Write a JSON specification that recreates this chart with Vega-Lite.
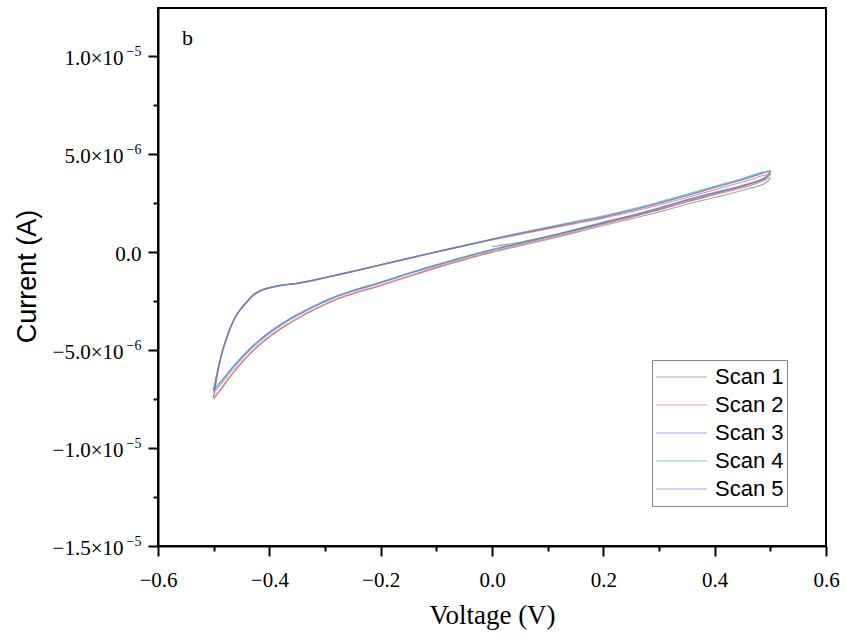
{
  "$schema": "https://vega.github.io/schema/vega-lite/v6.json",
  "width": 668,
  "height": 538,
  "autosize": {"type": "none"},
  "padding": {"left": 158, "top": 8, "right": 20, "bottom": 92},
  "background": "#ffffff",
  "config": {
    "view": {"stroke": "#000000", "strokeWidth": 2},
    "axis": {"domainColor": "#000000", "domainWidth": 2, "tickColor": "#000000", "tickWidth": 2, "labelColor": "#000000", "titleColor": "#000000", "titleFontWeight": "normal", "grid": false, "labelFlush": false, "labelOverlap": false, "labelBound": false}
  },
  "resolve": {"axis": {"y": "independent"}},
  "layer": [
    {
      "data": {"values": [
        {"s":"Scan 1","i":0,"v":0,"c":0.27e-6},{"s":"Scan 1","i":1,"v":0.05,"c":0.5e-6},{"s":"Scan 1","i":2,"v":0.1,"c":0.8e-6},{"s":"Scan 1","i":3,"v":0.15,"c":1.12e-6},{"s":"Scan 1","i":4,"v":0.2,"c":1.46e-6},{"s":"Scan 1","i":5,"v":0.25,"c":1.8e-6},{"s":"Scan 1","i":6,"v":0.3,"c":2.17e-6},{"s":"Scan 1","i":7,"v":0.35,"c":2.56e-6},{"s":"Scan 1","i":8,"v":0.4,"c":2.96e-6},{"s":"Scan 1","i":9,"v":0.45,"c":3.35e-6},{"s":"Scan 1","i":10,"v":0.5,"c":3.76e-6},
        {"s":"Scan 1","i":11,"v":0.49,"c":3.5e-6},{"s":"Scan 1","i":12,"v":0.45,"c":3.14e-6},{"s":"Scan 1","i":13,"v":0.4,"c":2.78e-6},{"s":"Scan 1","i":14,"v":0.35,"c":2.44e-6},{"s":"Scan 1","i":15,"v":0.3,"c":2.04e-6},{"s":"Scan 1","i":16,"v":0.25,"c":1.69e-6},{"s":"Scan 1","i":17,"v":0.2,"c":1.35e-6},{"s":"Scan 1","i":18,"v":0.15,"c":0.99e-6},{"s":"Scan 1","i":19,"v":0.1,"c":0.64e-6},{"s":"Scan 1","i":20,"v":0.05,"c":0.31e-6},{"s":"Scan 1","i":21,"v":0,"c":-0.02e-6},{"s":"Scan 1","i":22,"v":-0.05,"c":-0.4e-6},{"s":"Scan 1","i":23,"v":-0.1,"c":-0.81e-6},{"s":"Scan 1","i":24,"v":-0.15,"c":-1.26e-6},{"s":"Scan 1","i":25,"v":-0.2,"c":-1.72e-6},{"s":"Scan 1","i":26,"v":-0.25,"c":-2.14e-6},{"s":"Scan 1","i":27,"v":-0.28,"c":-2.44e-6},{"s":"Scan 1","i":28,"v":-0.3,"c":-2.69e-6},{"s":"Scan 1","i":29,"v":-0.32,"c":-2.97e-6},{"s":"Scan 1","i":30,"v":-0.34,"c":-3.26e-6},{"s":"Scan 1","i":31,"v":-0.36,"c":-3.58e-6},{"s":"Scan 1","i":32,"v":-0.38,"c":-3.94e-6},{"s":"Scan 1","i":33,"v":-0.4,"c":-4.34e-6},{"s":"Scan 1","i":34,"v":-0.42,"c":-4.81e-6},{"s":"Scan 1","i":35,"v":-0.44,"c":-5.36e-6},{"s":"Scan 1","i":36,"v":-0.46,"c":-6.0e-6},{"s":"Scan 1","i":37,"v":-0.47,"c":-6.36e-6},{"s":"Scan 1","i":38,"v":-0.48,"c":-6.75e-6},{"s":"Scan 1","i":39,"v":-0.49,"c":-7.12e-6},{"s":"Scan 1","i":40,"v":-0.5,"c":-7.47e-6},
        {"s":"Scan 1","i":41,"v":-0.498,"c":-7.1e-6},{"s":"Scan 1","i":42,"v":-0.496,"c":-6.72e-6},{"s":"Scan 1","i":43,"v":-0.493,"c":-6.23e-6},{"s":"Scan 1","i":44,"v":-0.489,"c":-5.67e-6},{"s":"Scan 1","i":45,"v":-0.485,"c":-5.19e-6},{"s":"Scan 1","i":46,"v":-0.48,"c":-4.72e-6},{"s":"Scan 1","i":47,"v":-0.47,"c":-3.9e-6},{"s":"Scan 1","i":48,"v":-0.46,"c":-3.29e-6},{"s":"Scan 1","i":49,"v":-0.45,"c":-2.89e-6},{"s":"Scan 1","i":50,"v":-0.44,"c":-2.56e-6},{"s":"Scan 1","i":51,"v":-0.43,"c":-2.26e-6},{"s":"Scan 1","i":52,"v":-0.42,"c":-2.06e-6},{"s":"Scan 1","i":53,"v":-0.41,"c":-1.93e-6},{"s":"Scan 1","i":54,"v":-0.4,"c":-1.85e-6},{"s":"Scan 1","i":55,"v":-0.38,"c":-1.73e-6},{"s":"Scan 1","i":56,"v":-0.35,"c":-1.62e-6},{"s":"Scan 1","i":57,"v":-0.32,"c":-1.46e-6},{"s":"Scan 1","i":58,"v":-0.3,"c":-1.33e-6},{"s":"Scan 1","i":59,"v":-0.25,"c":-1.0e-6},{"s":"Scan 1","i":60,"v":-0.2,"c":-0.67e-6},{"s":"Scan 1","i":61,"v":-0.15,"c":-0.34e-6},{"s":"Scan 1","i":62,"v":-0.1,"c":-0.01e-6},{"s":"Scan 1","i":63,"v":-0.05,"c":0.31e-6},{"s":"Scan 1","i":64,"v":0,"c":0.62e-6},

        {"s":"Scan 2","i":0,"v":0,"c":0.62e-6},{"s":"Scan 2","i":1,"v":0.05,"c":0.9e-6},{"s":"Scan 2","i":2,"v":0.1,"c":1.18e-6},{"s":"Scan 2","i":3,"v":0.15,"c":1.45e-6},{"s":"Scan 2","i":4,"v":0.2,"c":1.73e-6},{"s":"Scan 2","i":5,"v":0.25,"c":2.04e-6},{"s":"Scan 2","i":6,"v":0.3,"c":2.4e-6},{"s":"Scan 2","i":7,"v":0.35,"c":2.78e-6},{"s":"Scan 2","i":8,"v":0.4,"c":3.18e-6},{"s":"Scan 2","i":9,"v":0.45,"c":3.57e-6},{"s":"Scan 2","i":10,"v":0.5,"c":3.97e-6},
        {"s":"Scan 2","i":11,"v":0.49,"c":3.68e-6},{"s":"Scan 2","i":12,"v":0.45,"c":3.28e-6},{"s":"Scan 2","i":13,"v":0.4,"c":2.92e-6},{"s":"Scan 2","i":14,"v":0.35,"c":2.56e-6},{"s":"Scan 2","i":15,"v":0.3,"c":2.14e-6},{"s":"Scan 2","i":16,"v":0.25,"c":1.77e-6},{"s":"Scan 2","i":17,"v":0.2,"c":1.42e-6},{"s":"Scan 2","i":18,"v":0.15,"c":1.05e-6},{"s":"Scan 2","i":19,"v":0.1,"c":0.69e-6},{"s":"Scan 2","i":20,"v":0.05,"c":0.36e-6},{"s":"Scan 2","i":21,"v":0,"c":0.03e-6},{"s":"Scan 2","i":22,"v":-0.05,"c":-0.36e-6},{"s":"Scan 2","i":23,"v":-0.1,"c":-0.77e-6},{"s":"Scan 2","i":24,"v":-0.15,"c":-1.22e-6},{"s":"Scan 2","i":25,"v":-0.2,"c":-1.68e-6},{"s":"Scan 2","i":26,"v":-0.25,"c":-2.1e-6},{"s":"Scan 2","i":27,"v":-0.28,"c":-2.4e-6},{"s":"Scan 2","i":28,"v":-0.3,"c":-2.65e-6},{"s":"Scan 2","i":29,"v":-0.32,"c":-2.93e-6},{"s":"Scan 2","i":30,"v":-0.34,"c":-3.22e-6},{"s":"Scan 2","i":31,"v":-0.36,"c":-3.54e-6},{"s":"Scan 2","i":32,"v":-0.38,"c":-3.9e-6},{"s":"Scan 2","i":33,"v":-0.4,"c":-4.3e-6},{"s":"Scan 2","i":34,"v":-0.42,"c":-4.77e-6},{"s":"Scan 2","i":35,"v":-0.44,"c":-5.32e-6},{"s":"Scan 2","i":36,"v":-0.46,"c":-5.95e-6},{"s":"Scan 2","i":37,"v":-0.47,"c":-6.31e-6},{"s":"Scan 2","i":38,"v":-0.48,"c":-6.7e-6},{"s":"Scan 2","i":39,"v":-0.49,"c":-7.08e-6},{"s":"Scan 2","i":40,"v":-0.5,"c":-7.42e-6},
        {"s":"Scan 2","i":41,"v":-0.498,"c":-7.05e-6},{"s":"Scan 2","i":42,"v":-0.496,"c":-6.68e-6},{"s":"Scan 2","i":43,"v":-0.493,"c":-6.2e-6},{"s":"Scan 2","i":44,"v":-0.489,"c":-5.65e-6},{"s":"Scan 2","i":45,"v":-0.485,"c":-5.17e-6},{"s":"Scan 2","i":46,"v":-0.48,"c":-4.7e-6},{"s":"Scan 2","i":47,"v":-0.47,"c":-3.88e-6},{"s":"Scan 2","i":48,"v":-0.46,"c":-3.27e-6},{"s":"Scan 2","i":49,"v":-0.45,"c":-2.87e-6},{"s":"Scan 2","i":50,"v":-0.44,"c":-2.54e-6},{"s":"Scan 2","i":51,"v":-0.43,"c":-2.24e-6},{"s":"Scan 2","i":52,"v":-0.42,"c":-2.04e-6},{"s":"Scan 2","i":53,"v":-0.41,"c":-1.91e-6},{"s":"Scan 2","i":54,"v":-0.4,"c":-1.83e-6},{"s":"Scan 2","i":55,"v":-0.38,"c":-1.71e-6},{"s":"Scan 2","i":56,"v":-0.35,"c":-1.6e-6},{"s":"Scan 2","i":57,"v":-0.32,"c":-1.44e-6},{"s":"Scan 2","i":58,"v":-0.3,"c":-1.31e-6},{"s":"Scan 2","i":59,"v":-0.25,"c":-0.99e-6},{"s":"Scan 2","i":60,"v":-0.2,"c":-0.66e-6},{"s":"Scan 2","i":61,"v":-0.15,"c":-0.33e-6},{"s":"Scan 2","i":62,"v":-0.1,"c":0},{"s":"Scan 2","i":63,"v":-0.05,"c":0.32e-6},{"s":"Scan 2","i":64,"v":0,"c":0.64e-6},

        {"s":"Scan 3","i":0,"v":0,"c":0.65e-6},{"s":"Scan 3","i":1,"v":0.05,"c":0.95e-6},{"s":"Scan 3","i":2,"v":0.1,"c":1.24e-6},{"s":"Scan 3","i":3,"v":0.15,"c":1.52e-6},{"s":"Scan 3","i":4,"v":0.2,"c":1.8e-6},{"s":"Scan 3","i":5,"v":0.25,"c":2.13e-6},{"s":"Scan 3","i":6,"v":0.3,"c":2.5e-6},{"s":"Scan 3","i":7,"v":0.35,"c":2.9e-6},{"s":"Scan 3","i":8,"v":0.4,"c":3.3e-6},{"s":"Scan 3","i":9,"v":0.45,"c":3.7e-6},{"s":"Scan 3","i":10,"v":0.5,"c":4.1e-6},
        {"s":"Scan 3","i":11,"v":0.49,"c":3.78e-6},{"s":"Scan 3","i":12,"v":0.45,"c":3.38e-6},{"s":"Scan 3","i":13,"v":0.4,"c":3.02e-6},{"s":"Scan 3","i":14,"v":0.35,"c":2.65e-6},{"s":"Scan 3","i":15,"v":0.3,"c":2.23e-6},{"s":"Scan 3","i":16,"v":0.25,"c":1.85e-6},{"s":"Scan 3","i":17,"v":0.2,"c":1.5e-6},{"s":"Scan 3","i":18,"v":0.15,"c":1.13e-6},{"s":"Scan 3","i":19,"v":0.1,"c":0.77e-6},{"s":"Scan 3","i":20,"v":0.05,"c":0.44e-6},{"s":"Scan 3","i":21,"v":0,"c":0.11e-6},{"s":"Scan 3","i":22,"v":-0.05,"c":-0.27e-6},{"s":"Scan 3","i":23,"v":-0.1,"c":-0.67e-6},{"s":"Scan 3","i":24,"v":-0.15,"c":-1.1e-6},{"s":"Scan 3","i":25,"v":-0.2,"c":-1.56e-6},{"s":"Scan 3","i":26,"v":-0.25,"c":-1.98e-6},{"s":"Scan 3","i":27,"v":-0.28,"c":-2.27e-6},{"s":"Scan 3","i":28,"v":-0.3,"c":-2.51e-6},{"s":"Scan 3","i":29,"v":-0.32,"c":-2.78e-6},{"s":"Scan 3","i":30,"v":-0.34,"c":-3.06e-6},{"s":"Scan 3","i":31,"v":-0.36,"c":-3.37e-6},{"s":"Scan 3","i":32,"v":-0.38,"c":-3.72e-6},{"s":"Scan 3","i":33,"v":-0.4,"c":-4.11e-6},{"s":"Scan 3","i":34,"v":-0.42,"c":-4.56e-6},{"s":"Scan 3","i":35,"v":-0.44,"c":-5.09e-6},{"s":"Scan 3","i":36,"v":-0.46,"c":-5.7e-6},{"s":"Scan 3","i":37,"v":-0.47,"c":-6.03e-6},{"s":"Scan 3","i":38,"v":-0.48,"c":-6.38e-6},{"s":"Scan 3","i":39,"v":-0.49,"c":-6.72e-6},{"s":"Scan 3","i":40,"v":-0.5,"c":-7.0e-6},
        {"s":"Scan 3","i":41,"v":-0.498,"c":-6.75e-6},{"s":"Scan 3","i":42,"v":-0.496,"c":-6.45e-6},{"s":"Scan 3","i":43,"v":-0.493,"c":-6.05e-6},{"s":"Scan 3","i":44,"v":-0.489,"c":-5.55e-6},{"s":"Scan 3","i":45,"v":-0.485,"c":-5.1e-6},{"s":"Scan 3","i":46,"v":-0.48,"c":-4.65e-6},{"s":"Scan 3","i":47,"v":-0.47,"c":-3.85e-6},{"s":"Scan 3","i":48,"v":-0.46,"c":-3.25e-6},{"s":"Scan 3","i":49,"v":-0.45,"c":-2.85e-6},{"s":"Scan 3","i":50,"v":-0.44,"c":-2.52e-6},{"s":"Scan 3","i":51,"v":-0.43,"c":-2.22e-6},{"s":"Scan 3","i":52,"v":-0.42,"c":-2.02e-6},{"s":"Scan 3","i":53,"v":-0.41,"c":-1.9e-6},{"s":"Scan 3","i":54,"v":-0.4,"c":-1.82e-6},{"s":"Scan 3","i":55,"v":-0.38,"c":-1.7e-6},{"s":"Scan 3","i":56,"v":-0.35,"c":-1.59e-6},{"s":"Scan 3","i":57,"v":-0.32,"c":-1.43e-6},{"s":"Scan 3","i":58,"v":-0.3,"c":-1.3e-6},{"s":"Scan 3","i":59,"v":-0.25,"c":-0.98e-6},{"s":"Scan 3","i":60,"v":-0.2,"c":-0.65e-6},{"s":"Scan 3","i":61,"v":-0.15,"c":-0.32e-6},{"s":"Scan 3","i":62,"v":-0.1,"c":0.01e-6},{"s":"Scan 3","i":63,"v":-0.05,"c":0.33e-6},{"s":"Scan 3","i":64,"v":0,"c":0.65e-6},

        {"s":"Scan 4","i":0,"v":0,"c":0.68e-6},{"s":"Scan 4","i":1,"v":0.05,"c":0.98e-6},{"s":"Scan 4","i":2,"v":0.1,"c":1.27e-6},{"s":"Scan 4","i":3,"v":0.15,"c":1.56e-6},{"s":"Scan 4","i":4,"v":0.2,"c":1.85e-6},{"s":"Scan 4","i":5,"v":0.25,"c":2.18e-6},{"s":"Scan 4","i":6,"v":0.3,"c":2.55e-6},{"s":"Scan 4","i":7,"v":0.35,"c":2.95e-6},{"s":"Scan 4","i":8,"v":0.4,"c":3.36e-6},{"s":"Scan 4","i":9,"v":0.45,"c":3.75e-6},{"s":"Scan 4","i":10,"v":0.5,"c":4.15e-6},
        {"s":"Scan 4","i":11,"v":0.49,"c":3.8e-6},{"s":"Scan 4","i":12,"v":0.45,"c":3.41e-6},{"s":"Scan 4","i":13,"v":0.4,"c":3.05e-6},{"s":"Scan 4","i":14,"v":0.35,"c":2.68e-6},{"s":"Scan 4","i":15,"v":0.3,"c":2.26e-6},{"s":"Scan 4","i":16,"v":0.25,"c":1.88e-6},{"s":"Scan 4","i":17,"v":0.2,"c":1.53e-6},{"s":"Scan 4","i":18,"v":0.15,"c":1.16e-6},{"s":"Scan 4","i":19,"v":0.1,"c":0.8e-6},{"s":"Scan 4","i":20,"v":0.05,"c":0.47e-6},{"s":"Scan 4","i":21,"v":0,"c":0.14e-6},{"s":"Scan 4","i":22,"v":-0.05,"c":-0.24e-6},{"s":"Scan 4","i":23,"v":-0.1,"c":-0.64e-6},{"s":"Scan 4","i":24,"v":-0.15,"c":-1.07e-6},{"s":"Scan 4","i":25,"v":-0.2,"c":-1.53e-6},{"s":"Scan 4","i":26,"v":-0.25,"c":-1.95e-6},{"s":"Scan 4","i":27,"v":-0.28,"c":-2.24e-6},{"s":"Scan 4","i":28,"v":-0.3,"c":-2.48e-6},{"s":"Scan 4","i":29,"v":-0.32,"c":-2.75e-6},{"s":"Scan 4","i":30,"v":-0.34,"c":-3.03e-6},{"s":"Scan 4","i":31,"v":-0.36,"c":-3.34e-6},{"s":"Scan 4","i":32,"v":-0.38,"c":-3.69e-6},{"s":"Scan 4","i":33,"v":-0.4,"c":-4.08e-6},{"s":"Scan 4","i":34,"v":-0.42,"c":-4.53e-6},{"s":"Scan 4","i":35,"v":-0.44,"c":-5.06e-6},{"s":"Scan 4","i":36,"v":-0.46,"c":-5.67e-6},{"s":"Scan 4","i":37,"v":-0.47,"c":-6.0e-6},{"s":"Scan 4","i":38,"v":-0.48,"c":-6.36e-6},{"s":"Scan 4","i":39,"v":-0.49,"c":-6.72e-6},{"s":"Scan 4","i":40,"v":-0.5,"c":-7.05e-6},
        {"s":"Scan 4","i":41,"v":-0.498,"c":-6.78e-6},{"s":"Scan 4","i":42,"v":-0.496,"c":-6.47e-6},{"s":"Scan 4","i":43,"v":-0.493,"c":-6.06e-6},{"s":"Scan 4","i":44,"v":-0.489,"c":-5.55e-6},{"s":"Scan 4","i":45,"v":-0.485,"c":-5.09e-6},{"s":"Scan 4","i":46,"v":-0.48,"c":-4.64e-6},{"s":"Scan 4","i":47,"v":-0.47,"c":-3.84e-6},{"s":"Scan 4","i":48,"v":-0.46,"c":-3.24e-6},{"s":"Scan 4","i":49,"v":-0.45,"c":-2.84e-6},{"s":"Scan 4","i":50,"v":-0.44,"c":-2.51e-6},{"s":"Scan 4","i":51,"v":-0.43,"c":-2.21e-6},{"s":"Scan 4","i":52,"v":-0.42,"c":-2.01e-6},{"s":"Scan 4","i":53,"v":-0.41,"c":-1.89e-6},{"s":"Scan 4","i":54,"v":-0.4,"c":-1.81e-6},{"s":"Scan 4","i":55,"v":-0.38,"c":-1.69e-6},{"s":"Scan 4","i":56,"v":-0.35,"c":-1.58e-6},{"s":"Scan 4","i":57,"v":-0.32,"c":-1.42e-6},{"s":"Scan 4","i":58,"v":-0.3,"c":-1.29e-6},{"s":"Scan 4","i":59,"v":-0.25,"c":-0.97e-6},{"s":"Scan 4","i":60,"v":-0.2,"c":-0.64e-6},{"s":"Scan 4","i":61,"v":-0.15,"c":-0.31e-6},{"s":"Scan 4","i":62,"v":-0.1,"c":0.02e-6},{"s":"Scan 4","i":63,"v":-0.05,"c":0.34e-6},{"s":"Scan 4","i":64,"v":0,"c":0.66e-6},

        {"s":"Scan 5","i":0,"v":0,"c":0.64e-6},{"s":"Scan 5","i":1,"v":0.05,"c":0.93e-6},{"s":"Scan 5","i":2,"v":0.1,"c":1.22e-6},{"s":"Scan 5","i":3,"v":0.15,"c":1.5e-6},{"s":"Scan 5","i":4,"v":0.2,"c":1.78e-6},{"s":"Scan 5","i":5,"v":0.25,"c":2.11e-6},{"s":"Scan 5","i":6,"v":0.3,"c":2.48e-6},{"s":"Scan 5","i":7,"v":0.35,"c":2.87e-6},{"s":"Scan 5","i":8,"v":0.4,"c":3.28e-6},{"s":"Scan 5","i":9,"v":0.45,"c":3.68e-6},{"s":"Scan 5","i":10,"v":0.5,"c":4.08e-6},
        {"s":"Scan 5","i":11,"v":0.49,"c":3.75e-6},{"s":"Scan 5","i":12,"v":0.45,"c":3.36e-6},{"s":"Scan 5","i":13,"v":0.4,"c":3.0e-6},{"s":"Scan 5","i":14,"v":0.35,"c":2.63e-6},{"s":"Scan 5","i":15,"v":0.3,"c":2.21e-6},{"s":"Scan 5","i":16,"v":0.25,"c":1.83e-6},{"s":"Scan 5","i":17,"v":0.2,"c":1.48e-6},{"s":"Scan 5","i":18,"v":0.15,"c":1.11e-6},{"s":"Scan 5","i":19,"v":0.1,"c":0.75e-6},{"s":"Scan 5","i":20,"v":0.05,"c":0.42e-6},{"s":"Scan 5","i":21,"v":0,"c":0.09e-6},{"s":"Scan 5","i":22,"v":-0.05,"c":-0.29e-6},{"s":"Scan 5","i":23,"v":-0.1,"c":-0.69e-6},{"s":"Scan 5","i":24,"v":-0.15,"c":-1.12e-6},{"s":"Scan 5","i":25,"v":-0.2,"c":-1.58e-6},{"s":"Scan 5","i":26,"v":-0.25,"c":-2.0e-6},{"s":"Scan 5","i":27,"v":-0.28,"c":-2.3e-6},{"s":"Scan 5","i":28,"v":-0.3,"c":-2.54e-6},{"s":"Scan 5","i":29,"v":-0.32,"c":-2.81e-6},{"s":"Scan 5","i":30,"v":-0.34,"c":-3.1e-6},{"s":"Scan 5","i":31,"v":-0.36,"c":-3.41e-6},{"s":"Scan 5","i":32,"v":-0.38,"c":-3.77e-6},{"s":"Scan 5","i":33,"v":-0.4,"c":-4.16e-6},{"s":"Scan 5","i":34,"v":-0.42,"c":-4.62e-6},{"s":"Scan 5","i":35,"v":-0.44,"c":-5.16e-6},{"s":"Scan 5","i":36,"v":-0.46,"c":-5.78e-6},{"s":"Scan 5","i":37,"v":-0.47,"c":-6.12e-6},{"s":"Scan 5","i":38,"v":-0.48,"c":-6.49e-6},{"s":"Scan 5","i":39,"v":-0.49,"c":-6.85e-6},{"s":"Scan 5","i":40,"v":-0.5,"c":-7.12e-6},
        {"s":"Scan 5","i":41,"v":-0.498,"c":-6.82e-6},{"s":"Scan 5","i":42,"v":-0.496,"c":-6.5e-6},{"s":"Scan 5","i":43,"v":-0.493,"c":-6.08e-6},{"s":"Scan 5","i":44,"v":-0.489,"c":-5.57e-6},{"s":"Scan 5","i":45,"v":-0.485,"c":-5.11e-6},{"s":"Scan 5","i":46,"v":-0.48,"c":-4.66e-6},{"s":"Scan 5","i":47,"v":-0.47,"c":-3.86e-6},{"s":"Scan 5","i":48,"v":-0.46,"c":-3.26e-6},{"s":"Scan 5","i":49,"v":-0.45,"c":-2.86e-6},{"s":"Scan 5","i":50,"v":-0.44,"c":-2.53e-6},{"s":"Scan 5","i":51,"v":-0.43,"c":-2.23e-6},{"s":"Scan 5","i":52,"v":-0.42,"c":-2.03e-6},{"s":"Scan 5","i":53,"v":-0.41,"c":-1.91e-6},{"s":"Scan 5","i":54,"v":-0.4,"c":-1.83e-6},{"s":"Scan 5","i":55,"v":-0.38,"c":-1.71e-6},{"s":"Scan 5","i":56,"v":-0.35,"c":-1.6e-6},{"s":"Scan 5","i":57,"v":-0.32,"c":-1.44e-6},{"s":"Scan 5","i":58,"v":-0.3,"c":-1.31e-6},{"s":"Scan 5","i":59,"v":-0.25,"c":-0.99e-6},{"s":"Scan 5","i":60,"v":-0.2,"c":-0.66e-6},{"s":"Scan 5","i":61,"v":-0.15,"c":-0.33e-6},{"s":"Scan 5","i":62,"v":-0.1,"c":0},{"s":"Scan 5","i":63,"v":-0.05,"c":0.32e-6},{"s":"Scan 5","i":64,"v":0,"c":0.64e-6}
      ]},
      "mark": {"type": "line", "strokeWidth": 1.1, "opacity": 0.7, "interpolate": "catmull-rom"},
      "encoding": {
        "x": {
          "field": "v", "type": "quantitative",
          "scale": {"domain": [-0.6, 0.6], "nice": false, "zero": false},
          "axis": {
            "title": "Voltage (V)", "titleFont": "Liberation Serif", "titleFontSize": 27, "titleY": 77, "titleBaseline": "alphabetic",
            "values": [-0.6, -0.5, -0.4, -0.3, -0.2, -0.1, 0, 0.1, 0.2, 0.3, 0.4, 0.5, 0.6],
            "labelExpr": "abs(datum.value*5 - round(datum.value*5)) < 0.01 ? format(datum.value, '.1f') : ''",
            "labelFont": "Liberation Serif", "labelFontSize": 21, "labelPadding": 13,
            "tickSize": {"condition": {"test": "abs(datum.value*5 - round(datum.value*5)) < 0.01", "value": 10}, "value": 5}
          }
        },
        "y": {
          "field": "c", "type": "quantitative",
          "scale": {"domain": [-1.5e-5, 1.245e-5], "nice": false, "zero": false},
          "axis": {
            "orient": "left",
            "title": "Current (A)", "titleFont": "Liberation Sans", "titleFontSize": 27, "titleAngle": 270, "titleX": -123, "titleY": 268, "titleBaseline": "alphabetic", "titleAlign": "center",
            "values": [-1.5e-5, -1.25e-5, -1e-5, -7.5e-6, -5e-6, -2.5e-6, 0, 2.5e-6, 5e-6, 7.5e-6, 1e-5],
            "labelExpr": "abs(datum.value - 1e-5) < 1e-9 ? '1.0×10' : abs(datum.value - 5e-6) < 1e-9 ? '5.0×10' : abs(datum.value + 5e-6) < 1e-9 ? '−5.0×10' : abs(datum.value + 1e-5) < 1e-9 ? '−1.0×10' : abs(datum.value + 1.5e-5) < 1e-9 ? '−1.5×10' : ''",
            "labelFont": "Liberation Serif", "labelFontSize": 21, "labelPadding": 25, "labelOffset": 2,
            "tickSize": {"condition": {"test": "abs(datum.value*2e5 - round(datum.value*2e5)) < 0.01", "value": 10}, "value": 5}
          }
        },
        "color": {
          "field": "s", "type": "nominal",
          "scale": {"domain": ["Scan 1", "Scan 2", "Scan 3", "Scan 4", "Scan 5"], "range": ["#7a7a7a", "#f05a5a", "#4a74dc", "#2fae84", "#9a63d6"]},
          "legend": {
            "title": null, "orient": "none", "legendX": 494, "legendY": 352,
            "symbolType": "stroke", "symbolSize": 2601, "symbolStrokeWidth": 1.2, "symbolOpacity": 0.6,
            "clipHeight": 28,
            "labelFont": "Liberation Sans", "labelFontSize": 22, "labelColor": "#000000", "labelOffset": 7,
            "strokeColor": "#888888", "fillColor": "#ffffff", "padding": 3, "rowPadding": 0
          }
        },
        "order": {"field": "i", "type": "quantitative"}
      }
    },
    {
      "data": {"values": [{"v": -0.557, "c": 1.058e-5, "t": "b"}]},
      "mark": {"type": "text", "align": "left", "baseline": "alphabetic", "font": "Liberation Serif", "fontSize": 22, "color": "#000000"},
      "encoding": {
        "x": {"field": "v", "type": "quantitative"},
        "y": {
          "field": "c", "type": "quantitative",
          "axis": {
            "orient": "left", "title": null, "ticks": true, "tickSize": 0, "tickWidth": 0, "tickOpacity": 0, "domain": false, "grid": false,
            "values": [-1.5e-5, -1e-5, -5e-6, 0, 5e-6, 1e-5],
            "labelExpr": "abs(datum.value) < 1e-9 ? '0.0' : abs(datum.value) > 7.5e-6 ? '−5' : '−6'",
            "labelFont": "Liberation Serif", "labelAlign": "right", "labelBaseline": "middle",
            "labelFontSize": {"condition": {"test": "abs(datum.value) < 1e-9", "value": 21}, "value": 14},
            "labelOffset": {"condition": {"test": "abs(datum.value) < 1e-9", "value": 2}, "value": -4.5},
            "labelPadding": 17
          }
        },
        "text": {"field": "t"}
      }
    }
  ]
}
